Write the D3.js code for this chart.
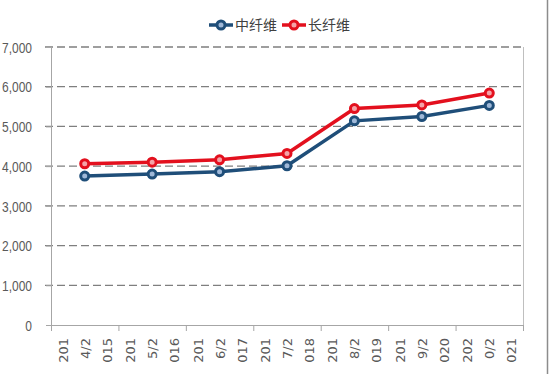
<!DOCTYPE html>
<meta charset="utf-8">
<script src="https://d3js.org/d3.v7.min.js"></script>
<style>
body { margin: 0; background: #fff; }
.grid line { stroke: #7f7f7f; stroke-width: 1.3px; stroke-dasharray: 8,4; }
.ylab { fill: #595959; font: 15px "Liberation Sans", sans-serif; }
.xlab { fill: #595959; font: 13px "DejaVu Sans", sans-serif; }
.legend text { fill: #404040; font: 14px "Noto Sans CJK SC", sans-serif; }
</style>
<body>
<script>

// chart data
var categories = ["2014/2015", "2015/2016", "2016/2017", "2017/2018", "2018/2019", "2019/2020", "2020/2021"];
var seriesNames = ["中纤维", "长纤维"];
var midFiber = [3750, 3800, 3860, 4010, 5140, 5250, 5530];
var longFiber = [4060, 4100, 4160, 4320, 5450, 5540, 5840];
var yTicks = [0, 1000, 2000, 3000, 4000, 5000, 6000, 7000];

var colors = ["#1f4e79", "#e3101e"];
var fills = ["#9fb8d8", "#f4a3a8"];

var width = 550, height = 374;
var plotLeft = 51, plotRight = 523, plotTop = 47, plotBottom = 325;

var svg = d3.select("body").append("svg")
    .attr("width", width)
    .attr("height", height);

// frame line on the right edge
svg.append("line")
    .attr("x1", 547.5).attr("x2", 547.5)
    .attr("y1", 0).attr("y2", height)
    .attr("stroke", "#8c8c8c").attr("stroke-width", 1.5);

var x = d3.scaleBand().domain(categories).range([plotLeft, plotRight]);
var y = d3.scaleLinear().domain([0, 7000]).range([plotBottom, plotTop]);

// gridlines
svg.append("g").attr("class", "grid")
  .selectAll("line")
  .data(yTicks.filter(function(d) { return d > 0; }))
  .enter().append("line")
    .attr("x1", plotLeft - 6).attr("x2", plotRight)
    .attr("y1", function(d) { return y(d); })
    .attr("y2", function(d) { return y(d); });

// y axis
var yAxis = svg.append("g")
    .attr("transform", "translate(" + plotLeft + ",0)")
    .call(d3.axisLeft(y).tickValues(yTicks).tickFormat(d3.format(",")).tickSize(5).tickPadding(14));
yAxis.select(".domain").attr("stroke", "#a6a6a6").attr("d", "M0.5," + plotTop + "V" + plotBottom);
yAxis.selectAll(".tick line").attr("stroke", "#a6a6a6");
yAxis.selectAll(".tick text").attr("class", "ylab").attr("dy", "0.35em")
  .each(function() {
    // condensed look like the original narrow font
    var w = this.getComputedTextLength();
    d3.select(this).attr("textLength", w * 0.8).attr("lengthAdjust", "spacingAndGlyphs");
  });

// right border of plot area
svg.append("line")
    .attr("x1", plotRight + 0.5).attr("x2", plotRight + 0.5)
    .attr("y1", plotTop).attr("y2", plotBottom)
    .attr("stroke", "#bfbfbf");

// x axis
svg.append("line")
    .attr("x1", plotLeft - 4).attr("x2", plotRight + 1)
    .attr("y1", plotBottom + 0.5).attr("y2", plotBottom + 0.5)
    .attr("stroke", "#a6a6a6");

var bounds = categories.map(function(c) { return x(c); }).concat([plotRight]);
svg.append("g").selectAll("line")
  .data(bounds)
  .enter().append("line")
    .attr("x1", function(d) { return d + 0.5; })
    .attr("x2", function(d) { return d + 0.5; })
    .attr("y1", plotBottom).attr("y2", plotBottom + 6)
    .attr("stroke", "#a6a6a6");

// x labels: wrapped in 3-char pieces, rotated
var xl = svg.append("g").selectAll("g")
  .data(categories)
  .enter().append("g")
    .attr("transform", function(d) {
      return "translate(" + (x(d) + x.bandwidth() / 2) + "," + 338 + ") rotate(-90)";
    });
xl.each(function(d) {
  var parts = [d.slice(0, 3), d.slice(3, 6), d.slice(6)];
  var g = d3.select(this);
  parts.forEach(function(p, i) {
    g.append("text")
      .attr("class", "xlab")
      .attr("text-anchor", "end")
      .attr("x", 0)
      .attr("y", (i - 1) * 22 + 5)
      .text(p);
  });
});

// series
var series = [midFiber, longFiber];
var line = d3.line()
    .x(function(d, i) { return x(categories[i]) + x.bandwidth() / 2; })
    .y(function(d) { return y(d); });

series.forEach(function(s, k) {
  svg.append("path")
    .datum(s)
    .attr("d", line)
    .attr("fill", "none")
    .attr("stroke", colors[k])
    .attr("stroke-width", 3.5);
  svg.append("g").selectAll("circle")
    .data(s)
    .enter().append("circle")
      .attr("cx", function(d, i) { return x(categories[i]) + x.bandwidth() / 2; })
      .attr("cy", function(d) { return y(d); })
      .attr("r", 4)
      .attr("fill", fills[k])
      .attr("stroke", colors[k])
      .attr("stroke-width", 3);
});

// legend
var legendX = [209, 282];
var legend = svg.append("g").attr("class", "legend");
seriesNames.forEach(function(name, k) {
  var g = legend.append("g").attr("transform", "translate(" + legendX[k] + ",25)");
  g.append("line").attr("x1", 0).attr("x2", 24).attr("y1", 0).attr("y2", 0)
    .attr("stroke", colors[k]).attr("stroke-width", 3.5);
  g.append("circle").attr("cx", 12).attr("cy", 0).attr("r", 4)
    .attr("fill", fills[k]).attr("stroke", colors[k]).attr("stroke-width", 3);
  g.append("text").attr("x", 26).attr("y", 0).attr("dy", "0.35em").text(name);
});

</script>
</body>
